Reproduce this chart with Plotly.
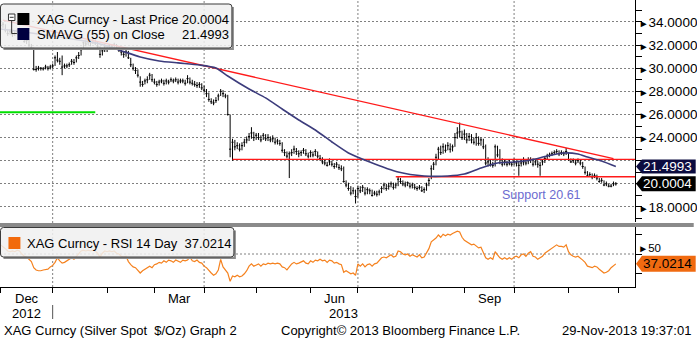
import numpy as np
import pandas as pd
import plotly.graph_objects as go

# ---------------- data ----------------
dates = pd.bdate_range("2012-11-30", "2013-11-29")

close = [
    33.7, 33.8, 33.3, 33.0, 33.2, 32.9, 33.0, 33.2, 33.3,
    32.6, 32.3, 32.4, 32.0, 31.8, 29.9, 29.9, 30.0, 30.0, 29.95,
    30.1, 30.0, 30.1, 30.2, 30.9, 30.7, 30.6, 30.1, 30.2, 30.2,
    30.3, 30.6, 30.5, 30.9, 31.1, 31.6, 32.2, 32.1, 32.3, 32.2,
    32.4, 32.2, 31.9, 31.2, 31.5, 31.9, 31.7, 32.0, 31.9, 32.0,
    31.8, 31.6, 31.4, 31.2, 31.4, 30.9, 30.3, 30.0, 29.8, 29.4,
    28.8, 28.6, 28.9, 29.0, 29.4, 29.0, 28.8, 28.6, 28.8, 28.9,
    28.7, 28.9, 28.8, 29.0, 28.9, 29.0, 28.8, 28.9, 28.9, 28.7,
    29.1, 28.8, 28.7, 28.6, 28.5, 28.6, 28.3, 28.1, 27.8, 27.3,
    27.1, 27.0, 27.2, 27.6, 28.0, 27.8, 27.6, 26.0, 23.0, 23.6,
    23.2, 23.3, 23.0, 23.3, 23.6, 23.8, 24.1, 24.4, 24.0, 24.2,
    24.0, 23.8, 24.2, 23.9, 24.0, 23.8, 23.9, 23.6, 23.7, 23.5,
    22.9, 22.7, 22.4, 22.6, 22.7, 23.0, 22.8, 22.6, 22.7, 22.9,
    22.6, 22.4, 22.7, 22.5, 22.8, 22.4, 22.2, 21.9, 21.8, 21.6,
    21.9, 21.7, 21.5, 21.7, 21.4, 21.3, 20.2, 19.9, 19.6, 19.2,
    19.4, 18.9, 19.6, 19.4, 19.7, 19.2, 19.5, 19.4, 19.0, 19.2,
    19.1, 19.3, 19.6, 19.9, 19.6, 19.8, 20.0, 19.7, 19.9, 20.4,
    20.2, 20.0, 19.9, 20.1, 19.8, 19.9, 19.7, 19.6, 19.7, 19.4,
    19.5, 19.9, 20.3, 21.3, 21.7, 22.3, 23.0, 22.7, 23.2, 22.9,
    23.3, 23.0, 23.2, 24.0, 24.4, 24.5, 24.0, 24.3, 23.8, 24.1,
    23.8, 23.6, 24.0, 23.5, 23.8, 23.2, 21.8, 21.9, 21.7, 21.6,
    23.2, 22.5, 22.1, 21.7, 21.9, 21.7, 21.8, 21.7, 21.9, 21.8,
    21.6, 21.8, 21.9, 21.8, 22.0, 22.1, 21.7, 21.9, 21.7, 21.6,
    21.9, 22.2, 22.4, 22.5, 22.6, 22.7, 22.8, 22.6, 22.7, 22.6,
    22.8, 22.1, 21.9, 22.0, 21.8, 22.0, 21.8, 21.5, 21.0, 20.7,
    20.8, 20.6, 20.7, 20.5, 20.2, 20.3, 19.9, 20.0, 19.8, 19.8, 20.0, 20.0004,
]

high = [
    34.3, 34.0, 33.8, 33.4, 33.4, 33.3, 33.2, 33.4, 33.5,
    33.3, 32.8, 32.6, 32.5, 32.1, 31.8, 30.2, 30.2, 30.1, 30.1,
    30.3, 30.2, 30.3, 30.4, 31.1, 31.4, 30.9, 31.1, 30.4, 30.4,
    30.5, 30.8, 30.8, 31.1, 31.4, 31.8, 32.3, 32.4, 32.5, 32.4,
    32.5, 32.5, 32.3, 31.9, 31.7, 32.1, 32.0, 32.1, 32.1, 32.2,
    32.1, 31.9, 31.7, 31.5, 31.6, 31.5, 30.9, 30.4, 30.1, 29.9,
    29.3, 28.9, 29.1, 29.3, 29.6, 29.5, 29.1, 28.9, 29.0, 29.1,
    29.0, 29.1, 29.0, 29.2, 29.1, 29.2, 29.1, 29.1, 29.1, 29.0,
    29.4, 29.2, 29.0, 28.9, 28.8, 28.8, 28.7, 28.5, 28.2, 27.9,
    27.4, 27.3, 27.5, 27.8, 28.2, 28.1, 27.8, 27.7, 26.0, 23.9,
    23.8, 23.6, 23.5, 23.6, 23.9, 24.1, 24.4, 24.9, 24.5, 24.4,
    24.4, 24.2, 24.4, 24.3, 24.3, 24.1, 24.2, 24.0, 23.9, 23.8,
    23.6, 23.0, 22.8, 22.8, 23.0, 23.3, 23.1, 22.9, 22.9, 23.1,
    23.0, 22.7, 22.9, 22.8, 23.0, 22.8, 22.5, 22.3, 22.1, 21.9,
    22.2, 22.0, 21.8, 21.9, 21.7, 21.6, 21.5, 20.3, 20.1, 19.8,
    19.7, 19.5, 19.8, 19.8, 19.9, 19.7, 19.7, 19.6, 19.5, 19.4,
    19.4, 19.5, 19.8, 20.1, 20.0, 20.1, 20.2, 20.1, 20.1, 20.6,
    20.5, 20.3, 20.2, 20.2, 20.1, 20.1, 20.0, 19.8, 19.9, 19.8,
    19.7, 20.1, 20.5, 21.6, 21.9, 22.6, 23.2, 23.3, 23.5, 23.4,
    23.6, 23.5, 23.4, 24.4, 24.9, 25.3, 24.6, 24.7, 24.4, 24.4,
    24.3, 24.0, 24.4, 24.1, 24.0, 23.9, 23.4, 22.3, 22.1, 21.9,
    23.4, 23.3, 23.0, 22.2, 22.1, 22.0, 22.1, 21.9, 22.2, 22.0,
    22.0, 22.1, 22.3, 22.1, 22.3, 22.3, 22.2, 22.1, 22.0, 21.9,
    22.1, 22.4, 22.6, 22.7, 22.8, 22.9, 23.0, 22.9, 22.9, 22.8,
    23.1, 22.7, 22.2, 22.2, 22.1, 22.2, 22.1, 21.9, 21.5, 21.1,
    21.0, 20.9, 20.9, 20.8, 20.5, 20.5, 20.3, 20.2, 20.0, 20.0, 20.2, 20.15,
]

low = [
    33.5, 33.5, 33.1, 32.8, 32.9, 32.7, 32.8, 32.9, 33.0,
    32.5, 32.2, 32.1, 31.8, 31.6, 29.8, 29.7, 29.8, 29.8, 29.8,
    29.9, 29.8, 29.9, 30.0, 30.2, 30.5, 30.3, 29.4, 30.0, 30.0,
    30.1, 30.3, 30.3, 30.5, 30.8, 31.1, 31.6, 31.9, 32.0, 31.9,
    32.1, 32.0, 31.6, 30.9, 31.1, 31.4, 31.4, 31.6, 31.7, 31.7,
    31.6, 31.4, 31.1, 30.9, 31.0, 30.8, 30.1, 29.8, 29.5, 29.2,
    28.4, 28.4, 28.6, 28.7, 29.0, 28.8, 28.6, 28.4, 28.5, 28.7,
    28.5, 28.6, 28.6, 28.8, 28.7, 28.8, 28.6, 28.7, 28.7, 28.5,
    28.7, 28.6, 28.5, 28.4, 28.3, 28.3, 28.1, 27.9, 27.5, 27.1,
    26.9, 26.8, 27.0, 27.2, 27.6, 27.5, 27.4, 25.9, 22.3, 22.0,
    22.9, 23.0, 22.8, 22.9, 23.2, 23.5, 23.7, 23.9, 23.7, 23.8,
    23.8, 23.6, 23.8, 23.7, 23.7, 23.6, 23.6, 23.4, 23.4, 23.3,
    22.7, 22.4, 22.2, 20.5, 22.4, 22.6, 22.5, 22.3, 22.4, 22.6,
    22.4, 22.2, 22.3, 22.3, 22.4, 22.2, 22.0, 21.7, 21.6, 21.5,
    21.6, 21.5, 21.3, 21.4, 21.2, 21.1, 20.1, 19.7, 19.4, 19.0,
    19.1, 18.3, 18.8, 19.2, 19.3, 19.0, 19.1, 19.1, 18.9, 19.0,
    18.9, 19.0, 19.2, 19.5, 19.4, 19.5, 19.7, 19.5, 19.6, 19.8,
    20.0, 19.8, 19.7, 19.8, 19.6, 19.6, 19.5, 19.4, 19.5, 19.3,
    19.2, 19.4, 19.8, 20.4, 21.2, 21.6, 22.1, 22.5, 22.6, 22.7,
    22.9, 22.7, 22.8, 23.2, 23.9, 24.0, 23.8, 23.8, 23.5, 23.7,
    23.5, 23.4, 23.3, 23.3, 23.3, 23.0, 21.6, 21.5, 21.5, 21.4,
    21.5, 22.3, 21.7, 21.5, 21.6, 21.5, 21.6, 21.5, 21.6, 21.5,
    20.7, 21.5, 21.6, 21.6, 21.7, 21.8, 21.5, 21.6, 21.4, 20.7,
    21.6, 21.8, 22.1, 22.3, 22.4, 22.5, 22.6, 22.4, 22.5, 22.4,
    22.5, 22.0, 21.8, 21.8, 21.6, 21.8, 21.6, 21.3, 20.8, 20.6,
    20.6, 20.4, 20.5, 20.3, 20.1, 20.1, 19.8, 19.8, 19.7, 19.7, 19.8, 19.85,
]

rsi = [
    62, 60, 57, 54, 53, 54, 53, 55, 54,
    50, 47, 46, 43, 40, 32, 29, 28, 28, 29,
    30, 30, 33, 35, 39, 45, 41, 38, 39, 41,
    42, 45, 43, 47, 51, 54, 55, 54, 55, 54,
    55, 54, 51, 46, 51, 54, 53, 54, 53, 54,
    51, 50, 47, 46, 47, 40, 36, 33, 32, 29,
    25, 28, 30, 32, 34, 32, 36, 37, 39, 38,
    41, 39, 42, 41, 39, 42, 41, 39, 42, 41,
    42, 46, 41, 40, 42, 39, 38, 34, 32, 28,
    25, 22, 24, 29, 43, 33, 29, 25, 14, 21,
    20, 22, 20, 21, 24, 28, 34, 37, 34, 36,
    37, 34, 37, 36, 38, 37, 38, 37, 38, 37,
    33, 32, 29, 33, 37, 39, 37, 38, 39, 41,
    38, 37, 41, 39, 42, 41, 43, 41, 42, 39,
    42, 41, 38, 39, 37, 36, 26, 28, 26, 24,
    25, 22, 37, 34, 37, 33, 36, 37, 34, 37,
    38, 42, 45, 46, 45, 47, 49, 46, 47, 54,
    53, 50, 49, 50, 47, 49, 47, 46, 49, 45,
    46, 51, 57, 66, 68, 71, 75, 72, 76, 74,
    76, 75, 77, 79, 80, 79, 72, 68, 66, 64,
    62, 63, 60, 58, 59, 53, 45, 43, 45, 43,
    53, 49, 45, 43, 45, 43, 45, 43, 46, 47,
    45, 49, 50, 47, 51, 53, 47, 46, 43, 45,
    47, 51, 53, 55, 58, 60, 62, 60, 60, 59,
    62, 53, 49, 47, 46, 47, 45, 42, 39, 34,
    33, 32, 34, 33, 30, 28, 25, 26, 28, 32, 34, 37.0214,
]

sma_dates = [
    "2012-11-30", "2012-12-11", "2012-12-24", "2013-01-04", "2013-01-16",
    "2013-01-29", "2013-02-08", "2013-02-21", "2013-03-05", "2013-03-15",
    "2013-03-28", "2013-04-08", "2013-04-15", "2013-04-26", "2013-05-07",
    "2013-05-16", "2013-05-27", "2013-06-05", "2013-06-14", "2013-06-25",
    "2013-07-08", "2013-07-24", "2013-08-08", "2013-08-22", "2013-09-02",
    "2013-09-11", "2013-09-20", "2013-10-01", "2013-10-10", "2013-10-21",
    "2013-10-30", "2013-11-07", "2013-11-13", "2013-11-21", "2013-11-29",
]
sma_vals = [
    33.39, 33.22, 32.96, 32.70, 32.44, 32.10, 31.58, 30.97, 30.63, 30.46,
    30.28, 30.02, 29.33, 28.20, 27.43, 26.47, 25.52, 24.66, 23.62, 22.67,
    21.89, 21.02, 20.68, 20.68, 20.85, 21.37, 21.80, 21.89, 22.06, 22.41,
    22.67, 22.58, 22.32, 21.98, 21.4993,
]

# drawn study lines
trend_dates = ["2012-12-03", "2013-11-28"]
trend_vals = [34.16, 22.18]
neck_start, neck_val = "2013-04-17", 22.12
support_start, support_val = "2013-07-23", 20.61
green_end, green_val = "2013-01-25", 26.19

last_price, last_sma, last_rsi = 20.0004, 21.4993, 37.0214

price_ticks = [18, 20, 22, 24, 26, 28, 30, 32, 34]
tagged_ticks = [20, 22]      # labels sitting behind the value tags
month_names = {"2012-12": "Dec", "2013-03": "Mar", "2013-06": "Jun", "2013-09": "Sep"}
quarter_starts = ["2013-01-01", "2013-04-01", "2013-07-01", "2013-10-01"]

# ---------------- helpers ----------------
ORIGIN = np.datetime64("2012-12-03")


def pos(d):
    """Trading-day position (weekdays counted from ORIGIN)."""
    if isinstance(d, str):
        return float(np.busday_count(ORIGIN, np.datetime64(d)))
    arr = np.array(pd.to_datetime(d).values, dtype="datetime64[D]")
    return np.busday_count(ORIGIN, arr)


W, H = 697, 339
PW, PH = 638, 287          # plot area in px (margins r=59, b=52)
X_LO, X_HI = -1.26, 267.1
Y_LO, Y_HI = 16.7, 35.9
R_LO, R_HI = 6.6, 85.5


def fx(px):
    return px / PW


def fy(py):
    return (PH - py) / PH


def rrect(x0, y0, x1, y1, r=3):
    return (f"M {fx(x0 + r)},{fy(y0)} L {fx(x1 - r)},{fy(y0)} Q {fx(x1)},{fy(y0)} {fx(x1)},{fy(y0 + r)} "
            f"L {fx(x1)},{fy(y1 - r)} Q {fx(x1)},{fy(y1)} {fx(x1 - r)},{fy(y1)} "
            f"L {fx(x0 + r)},{fy(y1)} Q {fx(x0)},{fy(y1)} {fx(x0)},{fy(y1 - r)} "
            f"L {fx(x0)},{fy(y0 + r)} Q {fx(x0)},{fy(y0)} {fx(x0 + r)},{fy(y0)} Z")


xp = pos(dates)
month_starts = pd.date_range("2012-12-01", "2013-12-01", freq="MS")
month_pos = pos(month_starts)

FONT = "Liberation Sans, Arial, sans-serif"
GRID = "#808080"

fig = go.Figure()

# ---- price panel ----
fig.add_trace(go.Scatter(x=[X_LO, pos(green_end)], y=[green_val, green_val], mode="lines",
                         line=dict(color="#00e000", width=2), hoverinfo="skip", showlegend=False))
fig.add_trace(go.Scatter(x=pos(trend_dates), y=trend_vals, mode="lines",
                         line=dict(color="#ff1a1a", width=1.3), hoverinfo="skip", showlegend=False))
fig.add_trace(go.Scatter(x=[pos(neck_start), X_HI], y=[neck_val, neck_val], mode="lines",
                         line=dict(color="#ff1a1a", width=1.3), hoverinfo="skip", showlegend=False))
fig.add_trace(go.Scatter(x=[pos(support_start), X_HI], y=[support_val, support_val], mode="lines",
                         line=dict(color="#ff1a1a", width=1.6), hoverinfo="skip", showlegend=False))
fig.add_trace(go.Scatter(x=pos(sma_dates), y=sma_vals, mode="lines",
                         line=dict(color="#3c3c7c", width=1.6, shape="spline", smoothing=0.6),
                         hoverinfo="skip", showlegend=False))
fig.add_trace(go.Ohlc(x=xp, open=close, high=high, low=low, close=close, tickwidth=0.45,
                      increasing=dict(line=dict(color="black", width=1)),
                      decreasing=dict(line=dict(color="black", width=1)),
                      hoverinfo="skip", showlegend=False, xaxis="x", yaxis="y"))

# ---- RSI panel ----
fig.add_trace(go.Scatter(x=xp, y=rsi, mode="lines", line=dict(color="#f5821f", width=1.2),
                         hoverinfo="skip", showlegend=False, xaxis="x", yaxis="y2"))

arrow = "<span style='font-size:10px'>►</span>"
price_text = ["" if v in tagged_ticks else f"{arrow}{v:.4f}" for v in price_ticks]

shapes = []
# quarter gridlines through both panels
for q in quarter_starts:
    shapes.append(dict(type="line", xref="x", yref="paper", x0=pos(q), x1=pos(q), y0=0, y1=1,
                       line=dict(color=GRID, width=1, dash="2px,2px"), layer="below"))
# RSI 50 gridline
shapes.append(dict(type="line", xref="paper", yref="y2", x0=0, x1=1, y0=50, y1=50,
                   line=dict(color=GRID, width=1, dash="2px,2px"), layer="below"))
# panel separator
shapes.append(dict(type="rect", xref="paper", yref="paper", x0=0, x1=fx(W), y0=fy(227), y1=fy(223),
                   fillcolor="#8a8a8a", line=dict(width=0)))

# legend boxes (shadow strips + translucent box)
for (bx0, by0, bx1, by1) in [(0.5, 4, 233, 48), (0.5, 227.5, 235, 257)]:
    shapes.append(dict(type="path", xref="paper", yref="paper",
                       path=(f"M {fx(bx1)},{fy(by0 + 3)} L {fx(bx1 + 2)},{fy(by0 + 3)} L {fx(bx1 + 2)},{fy(by1 + 2)} "
                             f"L {fx(bx0 + 3)},{fy(by1 + 2)} L {fx(bx0 + 3)},{fy(by1)} L {fx(bx1)},{fy(by1)} Z"),
                       fillcolor="#8c8c8c", line=dict(width=0)))
    shapes.append(dict(type="path", xref="paper", yref="paper", path=rrect(bx0, by0, bx1, by1, 3),
                       fillcolor="rgba(240,240,240,0.86)", line=dict(color="#3a3a3a", width=1)))

# legend swatches and tree icon
shapes += [
    dict(type="rect", xref="paper", yref="paper", x0=fx(8.5), x1=fx(15), y0=fy(20.5), y1=fy(14),
         fillcolor="white", line=dict(color="#333", width=1)),
    dict(type="line", xref="paper", yref="paper", x0=fx(9.8), x1=fx(13.7), y0=fy(17.3), y1=fy(17.3),
         line=dict(color="#333", width=1)),
    dict(type="path", xref="paper", yref="paper",
         path=f"M {fx(11.7)},{fy(20.5)} L {fx(11.7)},{fy(33.5)} L {fx(17)},{fy(33.5)}",
         line=dict(color="#333", width=1)),
    dict(type="rect", xref="paper", yref="paper", x0=fx(17.5), x1=fx(29.5), y0=fy(25), y1=fy(13),
         fillcolor="black", line=dict(width=0)),
    dict(type="rect", xref="paper", yref="paper", x0=fx(17.5), x1=fx(29.5), y0=fy(40), y1=fy(28),
         fillcolor="#000040", line=dict(width=0)),
    dict(type="rect", xref="paper", yref="paper", x0=fx(8.5), x1=fx(20.5), y0=fy(249), y1=fy(237),
         fillcolor="#f26a0c", line=dict(width=0)),
]


# value tags on the right axis
def tag(v, yref, per_px, hpx, color):
    h = hpx * per_px
    return dict(type="path", xref="paper", yref=yref,
                path=(f"M {fx(639)},{v} L {fx(645)},{v + h} L {fx(W + 2)},{v + h} "
                      f"L {fx(W + 2)},{v - h} L {fx(645)},{v - h} Z"),
                fillcolor=color, line=dict(width=0))


p_per_px = (Y_HI - Y_LO) / 222
r_per_px = (R_HI - R_LO) / 60
shapes.append(tag(last_sma, "y", p_per_px, 7, "#0c0c40"))
shapes.append(tag(last_price, "y", p_per_px, 7.5, "black"))
shapes.append(tag(last_rsi, "y2", r_per_px, 8, "#f06a10"))

# year separator on the date axis
shapes.append(dict(type="line", xref="x", yref="paper", x0=pos("2013-01-01"), x1=pos("2013-01-01"),
                   y0=fy(305), y1=fy(319), line=dict(color="#555", width=1)))

ann = []
tf = dict(family=FONT, size=13, color="black")
ann += [
    dict(xref="paper", yref="paper", x=fx(35), y=fy(19.5), text="XAG Curncy - Last Price",
         xanchor="left", yanchor="middle", showarrow=False, font=tf),
    dict(xref="paper", yref="paper", x=fx(232), y=fy(19.5), text=f"{last_price:.4f}",
         xanchor="right", yanchor="middle", showarrow=False, font=tf),
    dict(xref="paper", yref="paper", x=fx(35), y=fy(34), text="SMAVG (55) on Close",
         xanchor="left", yanchor="middle", showarrow=False, font=tf),
    dict(xref="paper", yref="paper", x=fx(232), y=fy(34), text=f"{last_sma:.4f}",
         xanchor="right", yanchor="middle", showarrow=False, font=tf),
    dict(xref="paper", yref="paper", x=fx(25), y=fy(243.5),
         text=f"XAG Curncy - RSI 14 Day  {last_rsi:.4f}",
         xanchor="left", yanchor="middle", showarrow=False, font=tf),
    # support annotation
    dict(xref="x", yref="y", x=pos("2013-09-23"), y=19.05, text=f"Support {support_val:.2f}",
         xanchor="left", yanchor="middle", showarrow=False,
         font=dict(family=FONT, size=12.5, color="#6b6bd0")),
    # value tags
    dict(xref="paper", yref="y", x=fx(671), y=last_sma, text=f"{last_sma:.4f}", xanchor="center",
         yanchor="middle", showarrow=False, font=dict(family=FONT, size=13.5, color="white")),
    dict(xref="paper", yref="y", x=fx(671), y=last_price, text=f"{last_price:.4f}", xanchor="center",
         yanchor="middle", showarrow=False, font=dict(family=FONT, size=13.5, color="white")),
    dict(xref="paper", yref="y2", x=fx(671), y=last_rsi, text=f"{last_rsi:.4f}", xanchor="center",
         yanchor="middle", showarrow=False, font=dict(family=FONT, size=13.5, color="black")),
]

# month / year labels centred in their month
for k in range(len(month_starts) - 1):
    key = month_starts[k].strftime("%Y-%m")
    if key in month_names:
        mid = (month_pos[k] + month_pos[k + 1]) / 2
        ann.append(dict(xref="x", yref="paper", x=mid, y=fy(298), text=month_names[key],
                        showarrow=False, xanchor="center", yanchor="middle", font=tf))
        if key == "2012-12":
            ann.append(dict(xref="x", yref="paper", x=mid, y=fy(313), text="2012",
                            showarrow=False, xanchor="center", yanchor="middle", font=tf))
ann.append(dict(xref="x", yref="paper", x=pos("2013-06-21"), y=fy(313), text="2013",
                showarrow=False, xanchor="center", yanchor="middle", font=tf))

# footer
ann += [
    dict(xref="paper", yref="paper", x=fx(2), y=fy(330.5), text="XAG Curncy (Silver Spot  $/Oz) Graph 2",
         showarrow=False, xanchor="left", yanchor="middle", font=tf),
    dict(xref="paper", yref="paper", x=fx(280), y=fy(330.5), text="Copyright© 2013 Bloomberg Finance L.P.",
         showarrow=False, xanchor="left", yanchor="middle", font=tf),
    dict(xref="paper", yref="paper", x=fx(696), y=fy(330.5), text="29-Nov-2013 19:37:01",
         showarrow=False, xanchor="right", yanchor="middle", font=tf),
]

fig.update_layout(
    width=W, height=H,
    margin=dict(l=0, r=W - PW, t=0, b=H - PH, pad=0),
    paper_bgcolor="white", plot_bgcolor="white",
    showlegend=False,
    font=dict(family=FONT, size=13, color="black"),
    xaxis=dict(domain=[0, 1], range=[X_LO, X_HI], anchor="y2", showgrid=False, zeroline=False,
               showline=True, linecolor="black", linewidth=1, ticks="outside", ticklen=5,
               tickcolor="black", tickvals=list(month_pos), showticklabels=False,
               rangeslider=dict(visible=False), fixedrange=True),
    yaxis=dict(domain=[fy(222), 1], range=[Y_LO, Y_HI], anchor="x", side="right",
               showline=True, linecolor="black", linewidth=1, zeroline=False,
               tickmode="array", tickvals=price_ticks, ticktext=price_text, ticks="",
               tickfont=dict(family=FONT, size=13.5, color="black"),
               showgrid=True, gridcolor=GRID, gridwidth=1, griddash="2px,2px",
               minor=dict(tickvals=list(range(17, 36)), ticks="outside", ticklen=6,
                          tickcolor="black", showgrid=False),
               fixedrange=True),
    yaxis2=dict(domain=[0, fy(227)], range=[R_LO, R_HI], anchor="x", side="right",
                showline=True, linecolor="black", linewidth=1, zeroline=False,
                tickmode="array", tickvals=[50], ticktext=[f"{arrow}50"], ticks="",
                tickfont=dict(family=FONT, size=11.5, color="black"), showgrid=False,
                ticklabelshift=-6,
                minor=dict(tickvals=[25, 50, 75], ticks="outside", ticklen=6,
                           tickcolor="black", showgrid=False),
                fixedrange=True),
    shapes=shapes,
    annotations=ann,
)

fig.write_html("out.html")
